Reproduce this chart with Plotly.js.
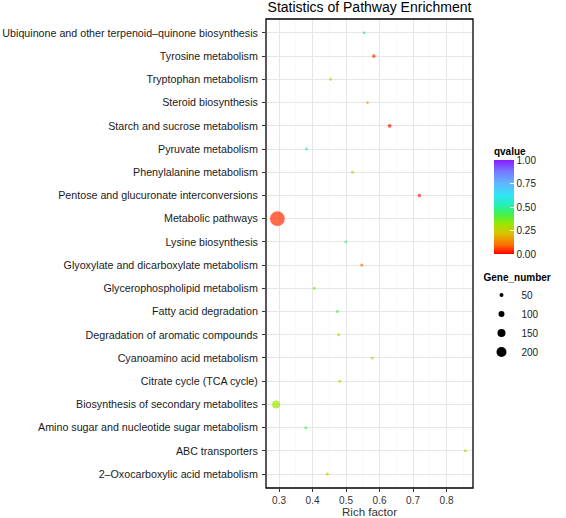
<!DOCTYPE html>
<html>
<head>
<meta charset="utf-8">
<script src="https://cdn.plot.ly/plotly-3.0.1.min.js"></script>
<style>html,body{margin:0;padding:0;background:#fff;}#chart{width:566px;height:518px;}</style>
</head>
<body>
<div id="chart"></div>
<script>
// Categories listed bottom to top
var pathways = [
  "2–Oxocarboxylic acid metabolism",
  "ABC transporters",
  "Amino sugar and nucleotide sugar metabolism",
  "Biosynthesis of secondary metabolites",
  "Citrate cycle (TCA cycle)",
  "Cyanoamino acid metabolism",
  "Degradation of aromatic compounds",
  "Fatty acid degradation",
  "Glycerophospholipid metabolism",
  "Glyoxylate and dicarboxylate metabolism",
  "Lysine biosynthesis",
  "Metabolic pathways",
  "Pentose and glucuronate interconversions",
  "Phenylalanine metabolism",
  "Pyruvate metabolism",
  "Starch and sucrose metabolism",
  "Steroid biosynthesis",
  "Tryptophan metabolism",
  "Tyrosine metabolism",
  "Ubiquinone and other terpenoid–quinone biosynthesis"
];
var richFactor = [0.444, 0.856, 0.380, 0.291, 0.481, 0.578, 0.478, 0.474, 0.405, 0.547,
                  0.499, 0.295, 0.719, 0.519, 0.382, 0.630, 0.564, 0.454, 0.583, 0.554];
var qvalue = [0.24, 0.28, 0.42, 0.31, 0.27, 0.28, 0.29, 0.42, 0.38, 0.11,
              0.47, 0.04, 0.03, 0.28, 0.52, 0.02, 0.19, 0.27, 0.05, 0.55];
var geneNumber = [25, 25, 25, 150, 25, 25, 25, 22, 25, 28,
                  15, 320, 35, 25, 22, 45, 22, 25, 40, 22];
var legendSizes = [50, 100, 150, 200];
var qTicks = [0, 0.25, 0.5, 0.75, 1];
var xTicks = [0.3, 0.4, 0.5, 0.6, 0.7, 0.8];
var xMinor = [0.35, 0.45, 0.55, 0.65, 0.75, 0.85];

function diam(v) { return 2 + 0.04 * v; }

var FONT = '"Liberation Sans", Arial, Helvetica, sans-serif';

var rainbow = [
  [0.00, '#ff0000'],
  [0.10, '#ff7000'],
  [0.22, '#d6c400'],
  [0.32, '#9ae600'],
  [0.42, '#44f04a'],
  [0.52, '#22f0b4'],
  [0.62, '#30e6f2'],
  [0.75, '#62b6ff'],
  [0.88, '#7478ff'],
  [1.00, '#8a1cff']
];

var traces = [{
  type: 'scatter',
  mode: 'markers',
  x: richFactor,
  y: pathways,
  showlegend: false,
  marker: {
    size: geneNumber.map(diam),
    sizemode: 'diameter',
    color: qvalue,
    cmin: 0, cmax: 1,
    colorscale: rainbow,
    line: {width: 0},
    showscale: true,
    colorbar: {
      title: {text: '<b>qvalue</b>', side: 'top', font: {size: 10, family: FONT, color: '#000'}},
      x: 1.101, xanchor: 'left', xref: 'paper',
      y: 0.616, yanchor: 'middle', yref: 'paper',
      len: 110, lenmode: 'pixels',
      thickness: 20, thicknessmode: 'pixels',
      outlinewidth: 0,
      xpad: 0, ypad: 0,
      tickvals: qTicks,
      ticktext: qTicks.map(function(v){return v.toFixed(2);}),
      ticks: 'inside', ticklen: 4, tickcolor: '#ffffff', tickwidth: 1,
      tickfont: {size: 10, family: FONT, color: '#1a1a1a'}
    }
  }
}];

legendSizes.forEach(function(s) {
  traces.push({
    type: 'scatter', mode: 'markers',
    x: [null], y: [null],
    name: String(s),
    showlegend: true,
    marker: {size: diam(s), color: '#000000', line: {width: 0}}
  });
});

var layout = {
  width: 566, height: 518,
  margin: {l: 266, r: 89, t: 19, b: 30},
  paper_bgcolor: '#ffffff',
  plot_bgcolor: '#ffffff',
  font: {family: FONT, color: '#1a1a1a'},
  title: {
    text: 'Statistics of Pathway Enrichment',
    font: {size: 14, family: FONT, color: '#000'},
    x: 0.5, xref: 'paper', xanchor: 'center',
    y: 0.9855, yref: 'container', yanchor: 'middle'
  },
  xaxis: {
    range: [0.261, 0.879],
    tickvals: xTicks,
    ticktext: xTicks.map(function(v){return v.toFixed(1);}),
    ticks: 'outside', ticklen: 3, tickcolor: '#333', tickwidth: 1,
    tickfont: {size: 10, family: FONT, color: '#333'},
    showline: false,
    showgrid: true, gridcolor: '#e6e6e6', gridwidth: 1,
    minor: {tickvals: xMinor, showgrid: true, gridcolor: '#f3f3f3', gridwidth: 0.6, ticks: ''},
    zeroline: false,
    title: {text: 'Rich factor', font: {size: 11.5, family: FONT, color: '#333'}, standoff: 4}
  },
  yaxis: {
    type: 'category',
    categoryorder: 'array', categoryarray: pathways,
    range: [-0.6, 19.6],
    ticks: 'outside', ticklen: 3, tickcolor: '#333', tickwidth: 1,
    tickfont: {size: 10.7, family: FONT, color: '#1a1a1a'},
    ticklabelstandoff: 2,
    showline: false,
    showgrid: true, gridcolor: '#e6e6e6', gridwidth: 1,
    zeroline: false
  },
  shapes: [{
    type: 'rect', xref: 'paper', yref: 'paper',
    x0: 0, x1: 1, y0: 0, y1: 1,
    line: {color: '#000000', width: 1.3},
    fillcolor: 'rgba(0,0,0,0)',
    layer: 'above'
  }],
  showlegend: true,
  legend: {
    title: {text: '<b>Gene_number</b>', font: {size: 10, family: FONT, color: '#000'}},
    x: 1.041, xanchor: 'left', xref: 'paper',
    y: 0.47, yanchor: 'top', yref: 'paper',
    font: {size: 10, family: FONT, color: '#1a1a1a'},
    bgcolor: 'rgba(0,0,0,0)',
    itemsizing: 'trace',
    itemwidth: 30,
    tracegroupgap: 0
  }
};

Plotly.newPlot('chart', traces, layout, {displayModeBar: false, staticPlot: true});
</script>
</body>
</html>
